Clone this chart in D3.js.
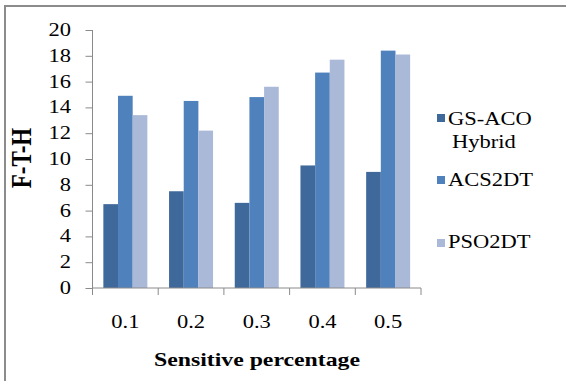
<!DOCTYPE html>
<html>
<head>
<meta charset="utf-8">
<script src="https://cdn.jsdelivr.net/npm/d3@7"></script>
<style>
  html, body { margin: 0; padding: 0; background: #fff; }
  svg { display: block; }
  text { font-family: "Liberation Serif", "Times New Roman", serif; fill: #000; }
</style>
</head>
<body>
<svg id="chart" width="566" height="381"></svg>
<script>
const categories = ["0.1", "0.2", "0.3", "0.4", "0.5"];
const seriesNames = ["GS-ACO Hybrid", "ACS2DT", "PSO2DT"];
const gsAco = [6.5, 7.5, 6.6, 9.5, 9.0];
const acs2dt = [14.9, 14.5, 14.8, 16.7, 18.4];
const pso2dt = [13.4, 12.2, 15.6, 17.7, 18.1];
const yTicks = [0, 2, 4, 6, 8, 10, 12, 14, 16, 18, 20];
const colors = ["#40699B", "#4F81BD", "#AAB9D7"];

const seriesValues = [gsAco, acs2dt, pso2dt];
const SX = 1.25; // horizontal stretch of the original image text

const svg = d3.select("#chart");

// outer border (top + left visible)
svg.append("rect")
  .attr("x", 5).attr("y", 6).attr("width", 600).attr("height", 400)
  .attr("fill", "none").attr("stroke", "#8C8C8C").attr("stroke-width", 2);

const plot = { left: 92.5, right: 421, top: 30, bottom: 288 };

const x = d3.scaleBand().domain(categories).range([plot.left, plot.right]).padding(0);
const x1 = d3.scaleBand().domain(seriesNames).range([0, x.bandwidth()])
  .paddingInner(0).paddingOuter(0.74);
const y = d3.scaleLinear().domain([0, 20]).range([plot.bottom, plot.top]);

// bars
const rows = [];
categories.forEach((c, i) => {
  seriesNames.forEach((s, j) => rows.push({ c, s, j, v: seriesValues[j][i] }));
});
svg.append("g").selectAll("rect").data(rows).join("rect")
  .attr("x", d => x(d.c) + x1(d.s))
  .attr("y", d => y(d.v))
  .attr("width", x1.bandwidth())
  .attr("height", d => y(0) - y(d.v))
  .attr("fill", d => colors[d.j]);

const axisColor = "#8A8A8A";

// y axis
const yAxis = svg.append("g").attr("transform", `translate(${plot.left},0)`)
  .call(d3.axisLeft(y).tickValues(yTicks).tickSize(7).tickFormat(() => ""));
yAxis.select(".domain").attr("stroke", axisColor).attr("d", `M0,${plot.top}V${plot.bottom}`);
yAxis.selectAll(".tick line").attr("stroke", axisColor);

// y tick labels (stretched text)
svg.append("g").selectAll("text").data(yTicks).join("text")
  .attr("transform", d => `translate(71,${y(d) + 6}) scale(${SX},1)`)
  .attr("text-anchor", "end")
  .style("font-size", "18px")
  .text(d => d);

// x axis
const xAxis = svg.append("g").attr("transform", `translate(0,${plot.bottom})`)
  .call(d3.axisBottom(x).tickSize(0).tickFormat(() => ""));
xAxis.select(".domain").attr("stroke", axisColor).attr("d", `M${plot.left},0H${plot.right}`);
xAxis.selectAll(".tick").remove();
const bounds = categories.map(c => x(c)).concat([x(categories[categories.length - 1]) + x.bandwidth()]);
xAxis.selectAll("line.sep").data(bounds).join("line")
  .attr("class", "sep")
  .attr("x1", d => d).attr("x2", d => d)
  .attr("y1", 0).attr("y2", 7)
  .attr("stroke", axisColor);

// x tick labels
svg.append("g").selectAll("text").data(categories).join("text")
  .attr("transform", d => `translate(${x(d) + x.bandwidth() / 2},328) scale(${SX},1)`)
  .attr("text-anchor", "middle")
  .style("font-size", "18px")
  .text(d => d);

// axis titles
svg.append("text")
  .attr("transform", `translate(31,158) scale(${SX},1) rotate(-90)`)
  .attr("text-anchor", "middle")
  .style("font-size", "23px").style("font-weight", "bold")
  .text("F-T-H");

svg.append("text")
  .attr("transform", `translate(257,366) scale(${SX},1)`)
  .attr("text-anchor", "middle")
  .style("font-size", "19px").style("font-weight", "bold")
  .text("Sensitive percentage");

// legend
const legendItems = [
  { lines: ["GS-ACO", "Hybrid"], sq: 114, base: 125 },
  { lines: ["ACS2DT"], sq: 176, base: 186 },
  { lines: ["PSO2DT"], sq: 239, base: 248 }
];
const lg = svg.append("g");
legendItems.forEach((it, i) => {
  lg.append("rect").attr("x", 437).attr("y", it.sq).attr("width", 8).attr("height", 8)
    .attr("fill", colors[i]);
  it.lines.forEach((t, k) => {
    lg.append("text")
      .attr("transform", `translate(${k === 0 ? 448 : 452},${it.base + k * 23}) scale(${SX},1)`)
      .style("font-size", "18px")
      .text(t);
  });
});
</script>
</body>
</html>
